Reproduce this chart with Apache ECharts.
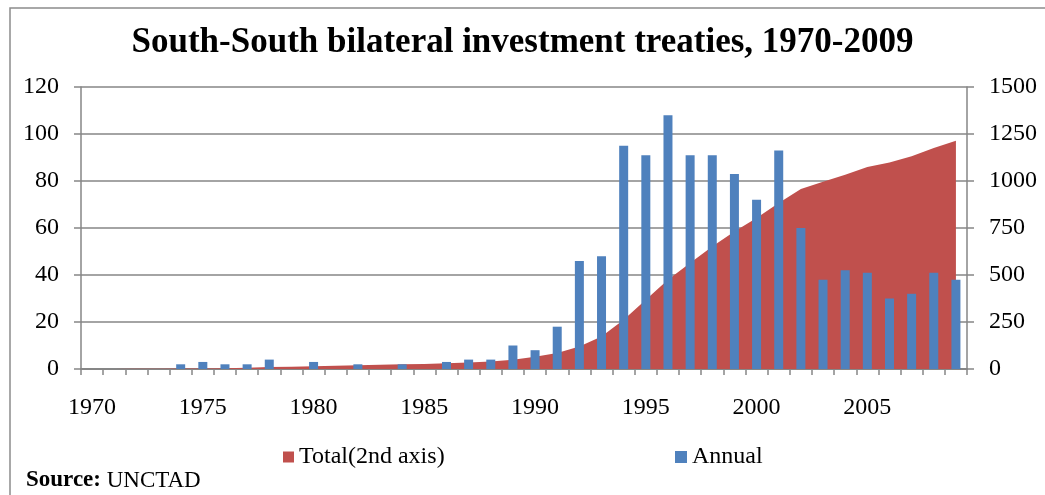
<!DOCTYPE html>
<html>
<head>
<meta charset="utf-8">
<title>South-South bilateral investment treaties, 1970-2009</title>
<script src="https://cdn.jsdelivr.net/npm/echarts/dist/echarts.min.js"></script>
<style>
  html, body { margin: 0; padding: 0; background: #fff; }
  #chart { width: 1045px; height: 495px; }
</style>
</head>
<body>
<div id="chart"></div>
<script>
// years on the category axis
const years = [
  '1970', '1971', '1972', '1973', '1974', '1975', '1976', '1977', '1978', '1979',
  '1980', '1981', '1982', '1983', '1984', '1985', '1986', '1987', '1988', '1989',
  '1990', '1991', '1992', '1993', '1994', '1995', '1996', '1997', '1998', '1999',
  '2000', '2001', '2002', '2003', '2004', '2005', '2006', '2007', '2008', '2009'
];

// treaties signed each year (left axis)
const annual = [
  0, 0, 0, 0, 2, 3, 2, 2, 4, 0,
  3, 0, 2, 0, 2, 0, 3, 4, 4, 10,
  8, 18, 46, 48, 95, 91, 108, 91, 91, 83,
  72, 93, 60, 38, 42, 41, 30, 32, 41, 38
];

// cumulative total (right axis)
const total = [
  0, 0, 1, 1, 2, 3, 4, 6, 10, 12,
  15, 17, 20, 22, 25, 27, 30, 35, 40, 49,
  65, 85, 120, 173, 262, 369, 475, 564, 652, 732,
  803, 883, 957, 996, 1033, 1074, 1099, 1131, 1175, 1214
];

const leftTicks = { min: 0, max: 120, interval: 20 };
const rightTicks = { min: 0, max: 1500, interval: 250 };

const serif = 'Liberation Serif, Times New Roman, serif';
const gray = '#868686';
const red = '#C0504D';
const blue = '#4F81BD';

const chart = echarts.init(document.getElementById('chart'), null, { renderer: 'canvas' });

const axisCommon = {
  axisLine: { show: true, lineStyle: { color: gray, width: 1.5 } },
  axisTick: { show: true, length: 7, lineStyle: { color: gray, width: 1.5 } },
  axisLabel: {
    color: '#000', fontFamily: serif, fontSize: 24, margin: 22,
    formatter: (v) => String(v)
  }
};

const legendText = { fontFamily: serif, fontSize: 24, color: '#000' };

chart.setOption({
  animation: false,
  title: {
    text: 'South-South bilateral investment treaties, 1970-2009',
    left: 'center',
    top: 20,
    textStyle: { fontFamily: serif, fontSize: 35, fontWeight: 'bold', color: '#000' }
  },
  legend: [
    {
      data: ['Total(2nd axis)'],
      left: 278, top: 440,
      icon: 'rect', itemWidth: 11, itemHeight: 11, itemGap: 6,
      textStyle: legendText
    },
    {
      data: ['Annual'],
      left: 670, top: 440,
      icon: 'rect', itemWidth: 12, itemHeight: 12, itemGap: 6,
      textStyle: legendText
    }
  ],
  grid: { left: 81, right: 78, top: 87, bottom: 126, containLabel: false },
  xAxis: {
    type: 'category',
    data: years,
    boundaryGap: true,
    axisLine: { show: true, lineStyle: { color: gray, width: 2 } },
    axisTick: { show: true, interval: 0, length: 6, lineStyle: { color: gray, width: 1.5 } },
    axisLabel: { interval: 4, color: '#000', fontFamily: serif, fontSize: 24, margin: 27 },
    splitLine: { show: false }
  },
  yAxis: [
    Object.assign({
      type: 'value',
      position: 'left',
      min: leftTicks.min, max: leftTicks.max, interval: leftTicks.interval,
      splitLine: { show: true, lineStyle: { color: gray, width: 1.5 } }
    }, axisCommon),
    Object.assign({
      type: 'value',
      position: 'right',
      min: rightTicks.min, max: rightTicks.max, interval: rightTicks.interval,
      splitLine: { show: false }
    }, axisCommon)
  ],
  series: [
    {
      name: 'Total(2nd axis)',
      type: 'line',
      yAxisIndex: 1,
      data: total,
      symbol: 'none',
      lineStyle: { width: 0 },
      itemStyle: { color: red },
      areaStyle: { color: red, opacity: 1 },
      z: 1
    },
    {
      name: 'Annual',
      type: 'bar',
      yAxisIndex: 0,
      data: annual,
      barWidth: 9,
      itemStyle: { color: blue },
      z: 3
    }
  ],
  graphic: [
    {
      type: 'rect',
      shape: { x: 10, y: 8, width: 1060, height: 520 },
      style: { fill: 'none', stroke: '#8c8c8c', lineWidth: 1.5 },
      silent: true
    },
    {
      type: 'text',
      left: 26, top: 469,
      style: {
        text: '{b|Source:} UNCTAD',
        fontFamily: serif, fontSize: 23, fill: '#000',
        rich: { b: { fontFamily: serif, fontSize: 23, fontWeight: 'bold', fill: '#000' } }
      }
    }
  ]
});
</script>
</body>
</html>
